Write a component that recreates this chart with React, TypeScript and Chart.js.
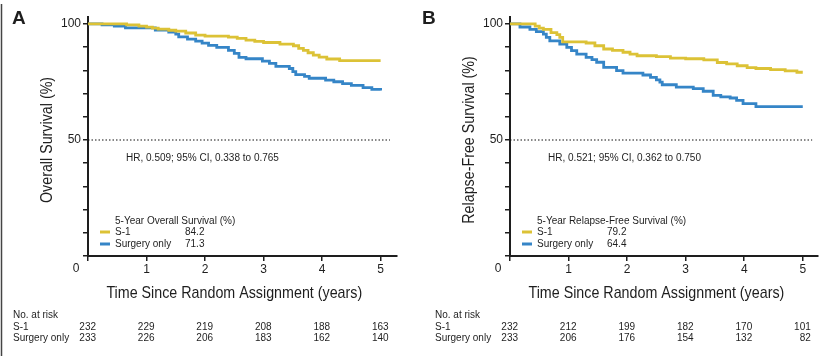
import React, { useEffect, useRef } from "react";
import { Chart, registerables } from "chart.js";
Chart.register(...registerables);

// ---------- data ----------
const yearTicks = [0, 1, 2, 3, 4, 5];
const yMinorTicks = [0, 10, 20, 30, 40, 50, 60, 70, 80, 90, 100];
const yLabelledTicks = [50, 100];
const seriesNames = ["S-1", "Surgery only"];

const osTimesS1 = [0, 0.66, 0.87, 1.0, 1.1, 1.2, 1.38, 1.5, 1.67, 1.84, 2.0, 2.4, 2.55, 2.7, 2.85, 3.0, 3.28, 3.51, 3.6, 3.68, 3.76, 3.85, 3.95, 4.08, 4.3, 5.0];
const osSurvS1 = [100, 99.6, 99.1, 98.6, 98.2, 97.8, 97.3, 96.9, 96.1, 95.2, 94.8, 94.3, 93.8, 93.0, 92.5, 92.0, 91.3, 90.6, 89.5, 88.6, 87.6, 86.6, 85.7, 84.9, 84.2, 84.2];
const osTimesSurg = [0, 0.24, 0.45, 0.64, 1.15, 1.38, 1.5, 1.55, 1.7, 1.84, 1.95, 2.06, 2.2, 2.4, 2.5, 2.58, 2.7, 2.98, 3.1, 3.21, 3.44, 3.5, 3.55, 3.7, 3.78, 4.06, 4.2, 4.35, 4.5, 4.7, 4.85, 5.0];
const osSurvSurg = [100, 99.6, 99.1, 98.3, 97.4, 96.5, 95.6, 94.4, 93.5, 92.6, 91.7, 90.8, 89.9, 88.6, 87.3, 85.6, 85.0, 84.0, 83.0, 81.7, 80.8, 79.5, 78.2, 77.4, 76.6, 75.8, 75.1, 74.3, 73.5, 72.6, 71.8, 71.3];

const rfsTimesS1 = [0, 0.43, 0.5, 0.57, 0.7, 0.8, 0.85, 0.9, 1.3, 1.45, 1.6, 1.75, 1.93, 2.05, 2.17, 2.5, 2.74, 3.0, 3.31, 3.54, 3.7, 3.88, 4.05, 4.2, 4.45, 4.7, 4.9, 5.0];
const rfsSurvS1 = [100, 99.1, 98.2, 97.7, 96.3, 95.4, 94.2, 92.3, 91.8, 90.6, 89.2, 88.6, 87.8, 87.0, 86.3, 85.9, 85.3, 85.0, 84.5, 83.4, 82.8, 82.0, 81.2, 80.8, 80.3, 79.8, 79.2, 79.2];
const rfsTimesSurg = [0, 0.17, 0.34, 0.45, 0.57, 0.62, 0.68, 0.85, 0.97, 1.05, 1.14, 1.3, 1.4, 1.48, 1.6, 1.82, 1.93, 2.27, 2.4, 2.5, 2.56, 2.6, 2.84, 3.13, 3.3, 3.47, 3.6, 3.76, 3.87, 3.98, 4.2, 5.0];
const rfsSurvSurg = [100, 98.7, 97.7, 96.7, 95.6, 94.2, 92.7, 91.3, 89.9, 88.5, 87.0, 85.6, 84.6, 83.5, 81.3, 79.9, 78.8, 78.0, 77.0, 75.9, 74.9, 73.8, 72.8, 72.1, 71.0, 69.2, 68.6, 68.1, 67.1, 65.7, 64.4, 64.4];

const riskOsS1 = [232, 229, 219, 208, 188, 163];
const riskOsSurg = [233, 226, 206, 183, 162, 140];
const riskRfsS1 = [232, 212, 199, 182, 170, 101];
const riskRfsSurg = [233, 206, 176, 154, 132, 82];

const fiveYearOs = ["84.2", "71.3"];
const fiveYearRfs = ["79.2", "64.4"];

const referenceLevel = 50;
const referenceEnd = 5.16;
const hrOs = "HR, 0.509; 95% CI, 0.338 to 0.765";
const hrRfs = "HR, 0.521; 95% CI, 0.362 to 0.750";

// ---------- styling ----------
const YELLOW = "#dcc236";
const BLUE = "#3585c7";
const INK = "#1e1e1e";
const SANS = '"Liberation Sans", Arial, sans-serif';
const TITLE_SQUEEZE = 0.84;

type Panel = {
  letter: string;
  letterX: number;
  yTitle: string;
  xTitle: string;
  legendTitle: string;
  hr: string;
  t1: number[]; s1: number[];
  t2: number[]; s2: number[];
  risk1: number[]; risk2: number[];
  five: string[];
  padLeft: number; padRight: number; xMax: number;
  border: boolean;
};

const panels: Panel[] = [
  {
    letter: "A", letterX: 12, yTitle: "Overall Survival (%)",
    xTitle: "Time Since Random Assignment (years)",
    legendTitle: "5-Year Overall Survival (%)", hr: hrOs,
    t1: osTimesS1, s1: osSurvS1, t2: osTimesSurg, s2: osSurvSurg,
    risk1: riskOsS1, risk2: riskOsSurg, five: fiveYearOs,
    padLeft: 58, padRight: 19, xMax: 5.28, border: true,
  },
  {
    letter: "B", letterX: 6, yTitle: "Relapse-Free Survival (%)",
    xTitle: "Time Since Random Assignment (years)",
    legendTitle: "5-Year Relapse-Free Survival (%)", hr: hrRfs,
    t1: rfsTimesS1, s1: rfsSurvS1, t2: rfsTimesSurg, s2: rfsSurvSurg,
    risk1: riskRfsS1, risk2: riskRfsSurg, five: fiveYearRfs,
    padLeft: 64, padRight: 14, xMax: 5.26, border: false,
  },
];

const toPoints = (t: number[], s: number[]) => t.map((x, i) => ({ x, y: s[i] }));

function makeDecor(p: Panel) {
  return {
    id: "kmDecor" + p.letter,
    afterDraw(chart: any) {
      const ctx = chart.ctx as CanvasRenderingContext2D;
      const xs = chart.scales.x;
      const ys = chart.scales.y;
      const left = chart.chartArea.left;
      ctx.save();
      ctx.fillStyle = INK;

      if (p.border) {
        ctx.strokeStyle = "#444";
        ctx.lineWidth = 1.5;
        ctx.beginPath();
        ctx.moveTo(1.5, 4);
        ctx.lineTo(1.5, 356);
        ctx.stroke();
      }

      // panel letter
      ctx.font = `bold 19px ${SANS}`;
      ctx.textAlign = "left";
      ctx.textBaseline = "alphabetic";
      ctx.fillText(p.letter, p.letterX, 24);

      // origin 0
      ctx.font = `12px ${SANS}`;
      ctx.textAlign = "center";
      ctx.textBaseline = "middle";
      ctx.fillText("0", xs.getPixelForValue(0) - 12, 269);

      // y title (condensed)
      ctx.save();
      ctx.translate(left - 41, ys.getPixelForValue(50));
      ctx.rotate(-Math.PI / 2);
      ctx.scale(TITLE_SQUEEZE, 1);
      ctx.font = `17px ${SANS}`;
      ctx.textAlign = "center";
      ctx.textBaseline = "middle";
      ctx.fillText(p.yTitle, 0, 0);
      ctx.restore();

      // x title (condensed)
      ctx.save();
      ctx.translate((xs.getPixelForValue(0) + xs.getPixelForValue(5)) / 2, 293);
      ctx.scale(TITLE_SQUEEZE, 1);
      ctx.font = `17px ${SANS}`;
      ctx.textAlign = "center";
      ctx.textBaseline = "middle";
      ctx.fillText(p.xTitle, 0, 0);
      ctx.restore();

      // HR text
      ctx.font = `10px ${SANS}`;
      ctx.textAlign = "left";
      ctx.textBaseline = "middle";
      ctx.fillText(p.hr, xs.getPixelForValue(0.65), ys.getPixelForValue(42));

      // legend
      const lx = left + 27;
      ctx.fillText(p.legendTitle, lx, 221);
      const rows = [232, 244];
      const cols = [YELLOW, BLUE];
      rows.forEach((ry, i) => {
        ctx.strokeStyle = cols[i];
        ctx.lineWidth = 3;
        ctx.beginPath();
        ctx.moveTo(left + 12, ry);
        ctx.lineTo(left + 22, ry);
        ctx.stroke();
        ctx.fillStyle = INK;
        ctx.fillText(seriesNames[i], lx, ry);
        ctx.fillText(p.five[i], lx + 70, ry);
      });

      // risk table
      const tx = left - 75;
      ctx.fillText("No. at risk", tx, 315);
      ctx.fillText(seriesNames[0], tx, 327);
      ctx.fillText(seriesNames[1], tx, 338);
      ctx.textAlign = "right";
      yearTicks.forEach((yr, i) => {
        const px = xs.getPixelForValue(yr) + 8;
        ctx.fillText(String(p.risk1[i]), px, 327);
        ctx.fillText(String(p.risk2[i]), px, 338);
      });
      ctx.restore();
    },
  };
}

function KMPanel({ p }: { p: Panel }) {
  const ref = useRef<HTMLCanvasElement>(null);
  useEffect(() => {
    if (!ref.current) return;
    const chart = new Chart(ref.current, {
      type: "line",
      data: {
        datasets: [
          {
            label: "ref",
            data: [{ x: 0, y: referenceLevel }, { x: referenceEnd, y: referenceLevel }],
            borderColor: "#111",
            borderWidth: 1.2,
            borderDash: [1.5, 2],
            pointRadius: 0,
          },
          {
            label: seriesNames[0],
            data: toPoints(p.t1, p.s1),
            borderColor: YELLOW,
            borderWidth: 2.8,
            pointRadius: 0,
            stepped: true,
          },
          {
            label: seriesNames[1],
            data: toPoints(p.t2, p.s2),
            borderColor: BLUE,
            borderWidth: 2.8,
            pointRadius: 0,
            stepped: true,
          },
        ],
      },
      options: {
        animation: false,
        responsive: false,
        layout: { padding: { left: p.padLeft, right: p.padRight, top: 17, bottom: 78 } },
        plugins: { legend: { display: false }, tooltip: { enabled: false } },
        scales: {
          x: {
            type: "linear",
            min: 0,
            max: p.xMax,
            afterBuildTicks: (s: any) => { s.ticks = yearTicks.map((v) => ({ value: v })); },
            afterFit: (s: any) => { s.height = 22; },
            ticks: {
              callback: (v: any) => (v === 0 ? "" : String(v)),
              color: INK,
              font: { family: SANS, size: 12 },
              padding: 1,
              maxRotation: 0,
            },
            grid: { drawOnChartArea: false, drawTicks: true, tickLength: 5, color: INK, lineWidth: 1.5 },
            border: { display: true, color: INK, width: 2 },
          },
          y: {
            type: "linear",
            min: 0,
            max: 103,
            afterBuildTicks: (s: any) => { s.ticks = yMinorTicks.map((v) => ({ value: v })); },
            afterFit: (s: any) => { s.width = 30; },
            ticks: {
              callback: (v: any) => (yLabelledTicks.includes(v) ? String(v) : ""),
              color: INK,
              font: { family: SANS, size: 12 },
              padding: 2,
            },
            grid: { drawOnChartArea: false, drawTicks: true, tickLength: 5, color: INK, lineWidth: 1.5 },
            border: { display: true, color: INK, width: 2 },
          },
        },
      },
      plugins: [makeDecor(p)],
    } as any);
    return () => chart.destroy();
  }, [p]);
  return <canvas ref={ref} width={416} height={356} style={{ display: "block", width: 416, height: 356 }} />;
}

export default function App() {
  return (
    <div style={{ position: "fixed", left: 0, top: 0, width: 832, height: 356, background: "#fff", display: "flex" }}>
      {panels.map((p) => (
        <KMPanel key={p.letter} p={p} />
      ))}
    </div>
  );
}
